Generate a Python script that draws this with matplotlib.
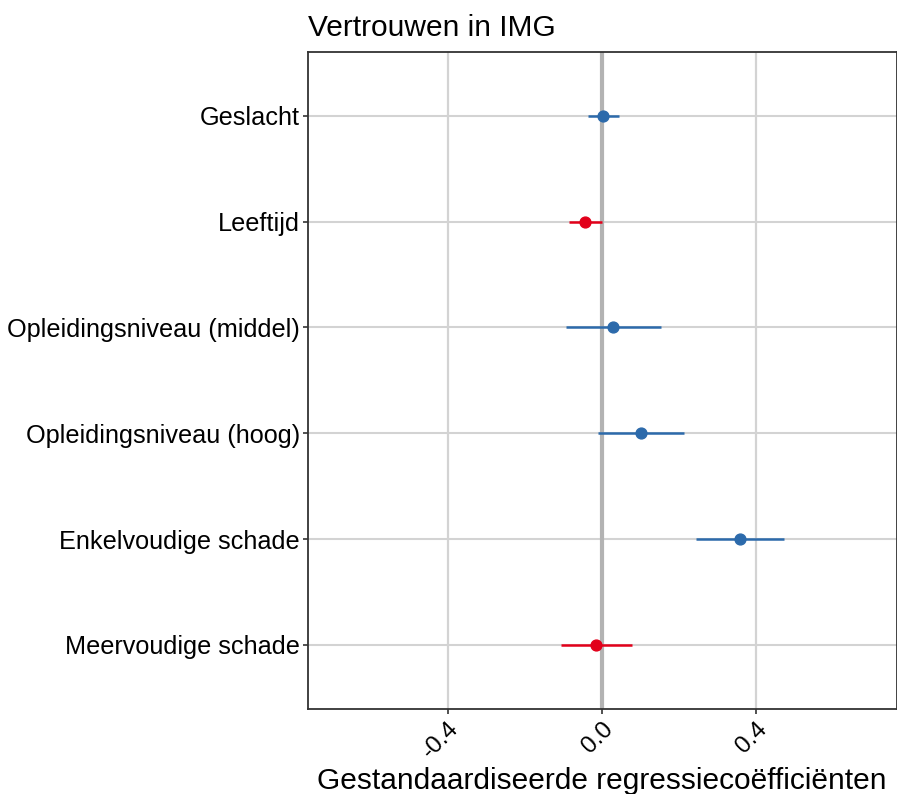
import matplotlib
matplotlib.use("Agg")
import matplotlib.pyplot as plt

plt.rcParams['font.family'] = ['Liberation Sans', 'DejaVu Sans']

categories = ["Geslacht", "Leeftijd", "Opleidingsniveau (middel)",
              "Opleidingsniveau (hoog)", "Enkelvoudige schade", "Meervoudige schade"]
estimates = [0.003, -0.043, 0.029, 0.101, 0.358, -0.016]
ci_low = [-0.036, -0.085, -0.094, -0.011, 0.244, -0.107]
ci_high = [0.044, -0.001, 0.152, 0.213, 0.473, 0.079]
positive = [True, False, True, True, True, False]
x_ticks = [-0.4, 0.0, 0.4]
x_ticklabels = ["-0.4", "0.0", "0.4"]

blue = "#2c6aab"
red = "#e2001a"

W, H = 897, 794
fig = plt.figure(figsize=(W / 100, H / 100), dpi=100)
left, right, top, bottom = 307.5, 896.5, 52.3, 708.5
ax = fig.add_axes([left / W, 1 - bottom / H, (right - left) / W, (bottom - top) / H])

n = len(categories)
ypos = [n - i for i in range(n)]

ax.set_xlim(-0.765, 0.765)
ax.set_ylim(0.4, n + 0.6)

for x in x_ticks:
    ax.axvline(x, color="#d3d3d3", lw=1.6, zorder=0)
for y in ypos:
    ax.axhline(y, color="#d3d3d3", lw=1.5, zorder=0)
ax.axvline(0, color="#b3b3b3", lw=3.0, zorder=1)

for y, e, lo, hi, p in zip(ypos, estimates, ci_low, ci_high, positive):
    c = blue if p else red
    ax.plot([lo, hi], [y, y], color=c, lw=1.8, solid_capstyle='butt', zorder=3)
    ax.plot([e], [y], 'o', color=c, ms=7.8, zorder=4)

ax.set_yticks(ypos)
ax.set_yticklabels(categories, fontsize=18.2)
ax.set_xticks(x_ticks)
ax.set_xticklabels(x_ticklabels, fontsize=17.5, rotation=45, ha='right', va='top',
                   rotation_mode='anchor')
ax.tick_params(axis='both', length=3.5, width=1.2, color='#333333')
ax.tick_params(axis='y', pad=2)
ax.tick_params(axis='x', pad=3)

for s in ax.spines.values():
    s.set_color('#333333')
    s.set_linewidth(1.3)

fig.text(602 / W, 1 - 789 / H, "Gestandaardiseerde regressiecoëfficiënten",
         fontsize=21.5, ha='center', va='baseline')
fig.text(left / W, 1 - 42 / H, "Vertrouwen in IMG", fontsize=21.5, ha='left', va='bottom')

fig.savefig("out.png", dpi=100)
